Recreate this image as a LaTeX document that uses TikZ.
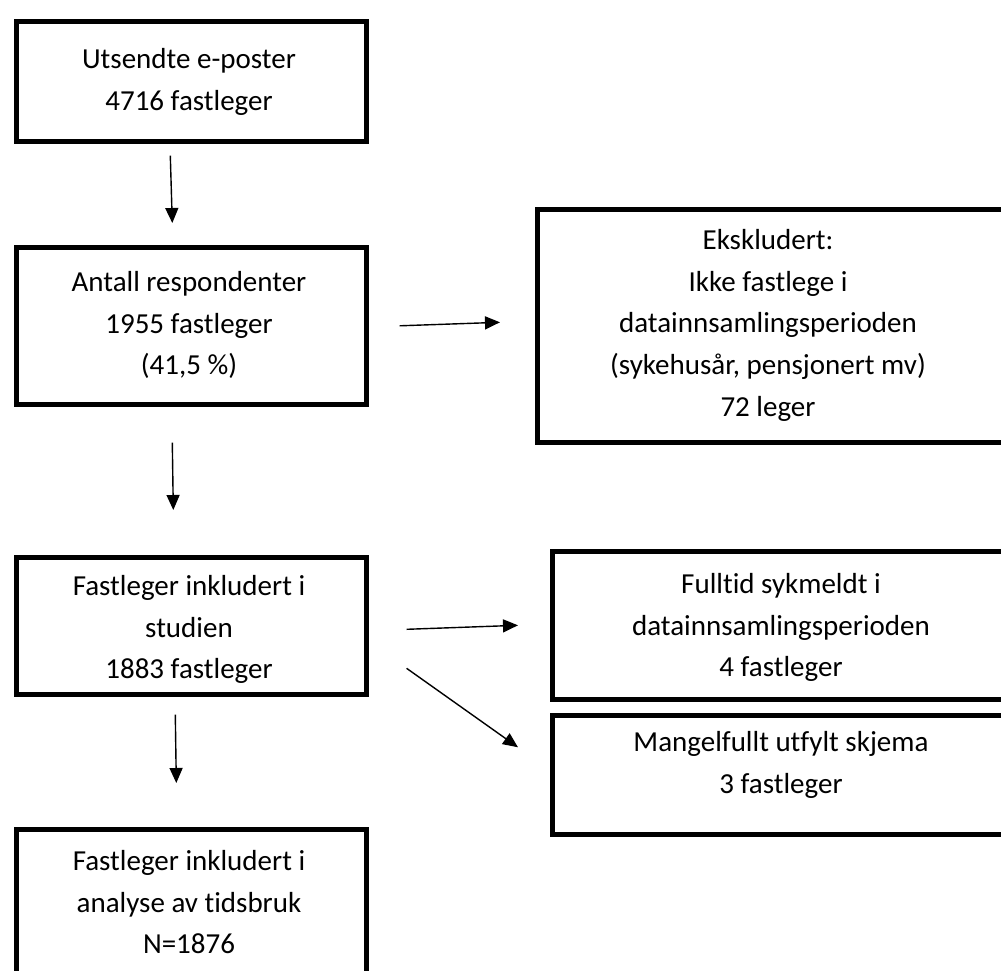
\documentclass[tikz,border=0pt]{standalone}
\usepackage{fontspec}
\setmainfont{Carlito}[Ligatures=NoCommon]
\usetikzlibrary{arrows.meta}

\begin{document}
\begin{tikzpicture}[x=1pt,y=-1pt,
    txt/.style={align=center,anchor=north,inner sep=0pt,font=\fontsize{29}{41.7}\selectfont},
    arr/.style={line width=1.4pt,-{Triangle[length=15pt,width=13pt]}}]
\useasboundingbox (0,0) rectangle (1001,971);
\clip (0,0) rectangle (1001,971);

\begin{scope}[every node/.style={draw,line width=4.6pt,anchor=north west,inner sep=0pt}]
    \node[minimum width=350pt,minimum height=120pt] (b1) at (14,19) {};
    \node[minimum width=350pt,minimum height=157pt] (b2) at (14,245) {};
    \node[minimum width=350pt,minimum height=137pt] (b3) at (14,555) {};
    \node[minimum width=350pt,minimum height=175pt] (b4) at (14,827) {};
    \node[minimum width=485pt,minimum height=233pt] (e1) at (535,207) {};
    \node[minimum width=470pt,minimum height=148pt] (f1) at (550,549) {};
    \node[minimum width=470pt,minimum height=119pt] (m1) at (550,713) {};
\end{scope}

\node[txt] (t1) at (189,48) {Utsendte e-poster\\4716 fastleger};
\node[txt] (t2) at (189,271) {Antall respondenter\\1955 fastleger\\(41,5 \%)};
\node[txt] (t3) at (189,575) {Fastleger inkludert i\\studien\\1883 fastleger};
\node[txt] (t4) at (189,850) {Fastleger inkludert i\\analyse av tidsbruk\\N=1876};
\node[txt] (te) at (768,229) {Ekskludert:\\Ikke fastlege i\\datainnsamlingsperioden\\(sykehusår, pensjonert mv)\\72 leger};
\node[txt] (tf) at (781,573) {Fulltid sykmeldt i\\datainnsamlingsperioden\\4 fastleger};
\node[txt] (tm) at (781,731) {Mangelfullt utfylt skjema\\3 fastleger};

\draw[arr] ([xshift=-21pt,yshift=-12pt]b1.south) -- ([xshift=-19pt,yshift=22pt]b2.north);
\draw[arr] ([xshift=-19pt,yshift=-36pt]b2.south) -- ([xshift=-18pt,yshift=45pt]b3.north);
\draw[arr] ([xshift=-16pt,yshift=-18pt]b3.south) -- ([xshift=-15pt,yshift=44pt]b4.north);
\draw[arr] ([xshift=31pt]b2.east) -- ([xshift=-35pt,yshift=3.5pt]e1.west);
\draw[arr] ([xshift=38pt,yshift=-3.5pt]b3.east) -- ([xshift=-32pt]f1.west);
\draw[arr] ([xshift=38pt,yshift=-42.5pt]b3.east) -- ([xshift=-32pt,yshift=27.5pt]m1.west);

\end{tikzpicture}
\end{document}
